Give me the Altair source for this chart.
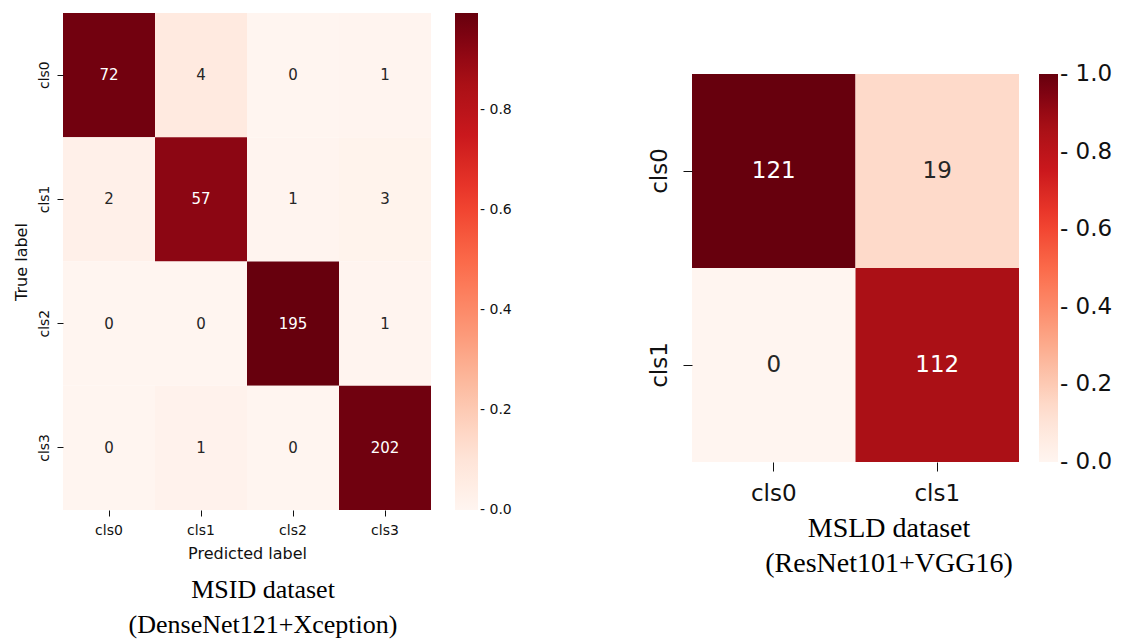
import altair as alt
import pandas as pd

left_classes = ["cls0", "cls1", "cls2", "cls3"]
left_counts = [[72, 4, 0, 1], [2, 57, 1, 3], [0, 0, 195, 1], [0, 1, 0, 202]]
right_classes = ["cls0", "cls1"]
right_counts = [[121, 19], [0, 112]]
left_caption = ["MSID dataset", "(DenseNet121+Xception)"]
right_caption = ["MSLD dataset", "(ResNet101+VGG16)"]
left_legend_ticks = [0.0, 0.2, 0.4, 0.6, 0.8]
right_legend_ticks = [0.0, 0.2, 0.4, 0.6, 0.8, 1.0]
reds = ["#fff5f0", "#fee0d2", "#fcbba1", "#fc9272", "#fb6a4a",
        "#ef3b2c", "#cb181d", "#a50f15", "#67000d"]

SERIF = "Liberation Serif"
SANS = "DejaVu Sans"


def table(classes, counts):
    n = len(classes)
    col_sums = [sum(counts[i][j] for i in range(n)) for j in range(n)]
    rows = []
    for i, t in enumerate(classes):
        for j, p in enumerate(classes):
            v = counts[i][j]
            rows.append(dict(true=t, pred=p, count=v, norm=v / col_sums[j]))
    return pd.DataFrame(rows)


def heatmap(classes, counts, w, h, fs_cell, fs_tick, ticks, x_axis_extra, ytitle,
            tick_size, lab_pad_x, lab_pad_y, leg_off, leg_thick, title):
    df = table(classes, counts)
    vmax = df["norm"].max()
    k = len(reds)
    domain = [vmax * i / (k - 1) for i in range(k)]
    # keep end labels centred on their tick (Vega shifts labels sitting exactly on the ends)
    eps = 1e-4
    leg_values = [min(max(t, eps), vmax - eps) for t in ticks]
    x = alt.X("pred:N", sort=classes,
              scale=alt.Scale(paddingInner=0, paddingOuter=0),
              axis=alt.Axis(labelAngle=0, labelFont=SANS,
                            labelFontSize=fs_tick, labelColor="#111", domain=False,
                            tickColor="#111", tickSize=tick_size, labelPadding=lab_pad_x,
                            titleFontWeight="normal",
                            **x_axis_extra))
    y = alt.Y("true:N", sort=classes,
              scale=alt.Scale(paddingInner=0, paddingOuter=0),
              axis=alt.Axis(title=ytitle, labelAngle=-90, labelFont=SANS,
                            labelFontSize=fs_tick, labelColor="#111", domain=False,
                            labelAlign="center", labelBaseline="bottom",
                            tickColor="#111", tickSize=tick_size, labelPadding=lab_pad_y,
                            titleFont=SANS, titleFontSize=16,
                            titleFontWeight="normal", titleColor="#111", titlePadding=8))
    base = alt.Chart(df)
    rect = base.mark_rect().encode(
        x=x, y=y,
        color=alt.Color("norm:Q", scale=alt.Scale(domain=domain, range=reds),
                        legend=alt.Legend(title=None, orient="right", direction="vertical",
                                          gradientLength=h, gradientThickness=leg_thick,
                                          gradientStrokeWidth=0, offset=leg_off,
                                          values=leg_values,
                                          labelExpr="'- ' + format(datum.value, '.1f')",
                                          labelFont=SANS, labelFontSize=fs_tick,
                                          labelColor="#111", labelOffset=2)),
    )
    text = base.mark_text(font=SANS, fontSize=fs_cell).encode(
        x=alt.X("pred:N", sort=classes),
        y=alt.Y("true:N", sort=classes),
        text="count:Q",
        color=alt.when(alt.datum.norm > 0.6).then(alt.value("white")).otherwise(alt.value("#262626")),
    )
    return alt.layer(rect, text).properties(width=w, height=h, title=title)


left = heatmap(
    left_classes, left_counts, 368, 497, 15, 14, left_legend_ticks,
    dict(title="Predicted label", titleFont=SANS, titleFontSize=16, titlePadding=8,
         titleColor="#111"),
    "True label", 6, 7, 6, 24, 23,
    alt.TitleParams(text=left_caption, orient="bottom", anchor="middle", font=SERIF,
                    fontSize=26, fontWeight="normal", color="black", lineHeight=35,
                    dx=16, offset=16),
)
right = heatmap(
    right_classes, right_counts, 327, 388, 23, 23, right_legend_ticks,
    dict(title=right_caption, titleFont=SERIF, titleFontSize=28, titleLineHeight=35,
         titlePadding=9, titleX=327 / 2 + 33, titleAlign="center", titleColor="black"),
    None, 9, 11, 12, 20, 19,
    alt.TitleParams(text=" ", orient="top", fontSize=10, offset=17),
)

chart = (alt.hconcat(left, right, spacing=136, center=True)
         .resolve_scale(color="independent")
         .configure_view(stroke=None))

chart.save("out.html", embed_options={"renderer": "svg", "actions": False})
